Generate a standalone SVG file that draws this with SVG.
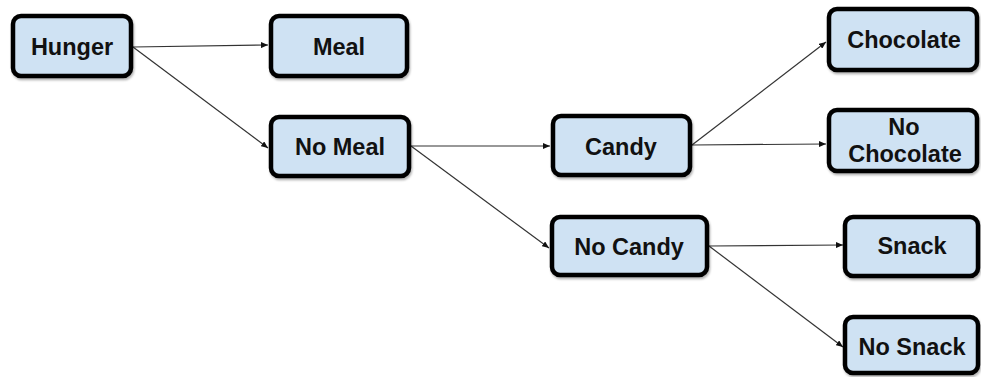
<svg xmlns="http://www.w3.org/2000/svg" width="981" height="377" viewBox="0 0 981 377">
<style>
.box{fill:#cfe2f3;stroke:#000;stroke-width:4.5;filter:url(#sh)}
.t{font-family:"Liberation Sans",Arial,sans-serif;font-weight:bold;font-size:23.5px;fill:#111;text-anchor:middle}
.c{stroke:#333;stroke-width:1.2;fill:none;marker-end:url(#ah)}
</style>
<defs>
<filter id="sh" x="-10%" y="-10%" width="120%" height="130%">
<feDropShadow dx="1" dy="2" stdDeviation="1.2" flood-color="#000" flood-opacity="0.3"/>
</filter>
<marker id="ah" markerUnits="userSpaceOnUse" markerWidth="7" markerHeight="6" refX="7" refY="3" orient="auto">
<path d="M0,0 L7,3 L0,6 z" fill="#111"/>
</marker>
</defs>
<rect width="981" height="377" fill="#fff"/>
<g id="connectors">
<line class="c" x1="133" y1="47" x2="268" y2="45"/>
<line class="c" x1="133" y1="47" x2="268" y2="148"/>
<line class="c" x1="411" y1="146" x2="550" y2="146"/>
<line class="c" x1="411" y1="146" x2="549" y2="248"/>
<line class="c" x1="692" y1="145" x2="826" y2="42"/>
<line class="c" x1="692" y1="145" x2="826" y2="144"/>
<line class="c" x1="709" y1="246" x2="843" y2="245"/>
<line class="c" x1="709" y1="246" x2="843" y2="347"/>
</g>
<g id="hunger"><rect class="box" x="13" y="16" width="118" height="60" rx="8"/><text class="t" x="72" y="55">Hunger</text></g>
<g id="meal"><rect class="box" x="271" y="16" width="136" height="60" rx="8"/><text class="t" x="339" y="55">Meal</text></g>
<g id="nomeal"><rect class="box" x="271" y="117" width="138" height="59" rx="8"/><text class="t" x="340" y="155">No Meal</text></g>
<g id="candy"><rect class="box" x="553" y="116" width="137" height="59" rx="8"/><text class="t" x="621" y="155">Candy</text></g>
<g id="nocandy"><rect class="box" x="552" y="217" width="155" height="58" rx="8"/><text class="t" x="629" y="255">No Candy</text></g>
<g id="chocolate"><rect class="box" x="829" y="9" width="148" height="61" rx="8"/><text class="t" x="904" y="48">Chocolate</text></g>
<g id="nochocolate"><rect class="box" x="829" y="110" width="148" height="61" rx="8"/><text class="t" x="904" y="135">No</text><text class="t" x="905" y="162">Chocolate</text></g>
<g id="snack"><rect class="box" x="845" y="217" width="133" height="59" rx="8"/><text class="t" x="912" y="254">Snack</text></g>
<g id="nosnack"><rect class="box" x="845" y="317" width="133" height="56" rx="8"/><text class="t" x="912" y="355">No Snack</text></g>
</svg>
